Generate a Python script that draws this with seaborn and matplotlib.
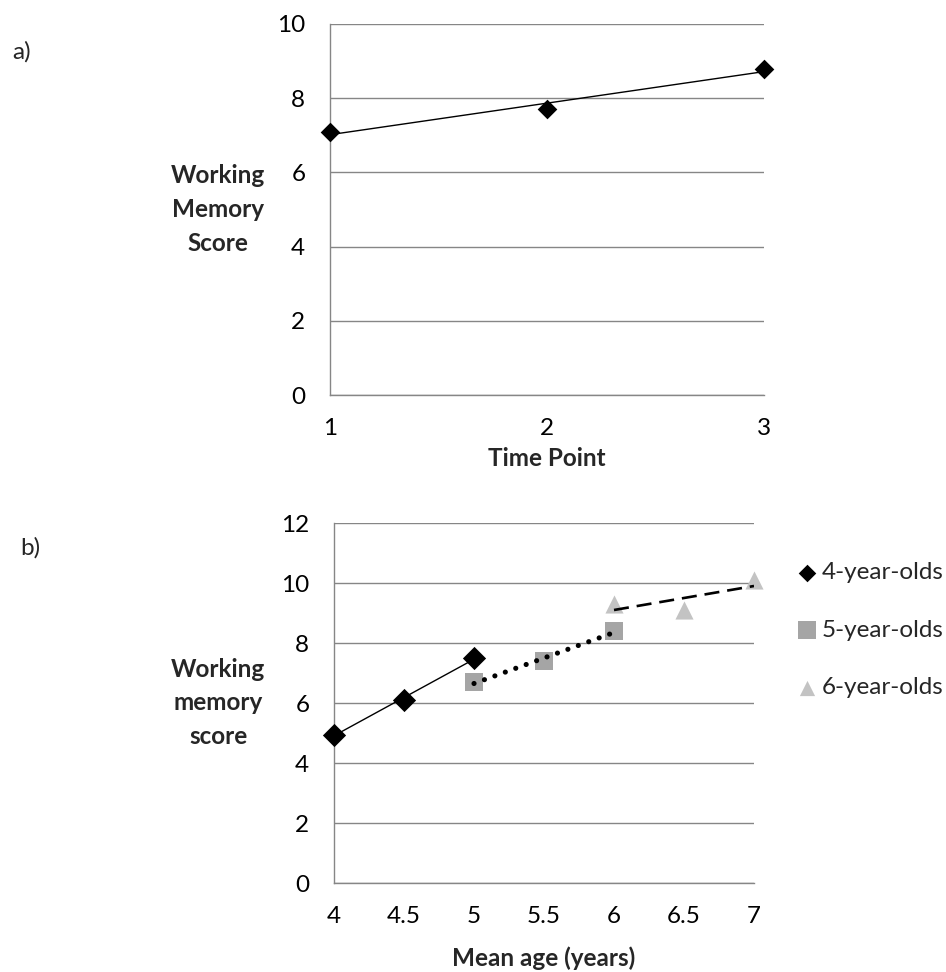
import matplotlib
matplotlib.use("Agg")
import matplotlib.pyplot as plt
import seaborn as sns

# Panel a: working memory score at three time points
time_points = [1, 2, 3]
wm_scores = [7.1, 7.7, 8.8]

# Panel b: working memory score by mean age, per age cohort
ages_4 = [4.0, 4.5, 5.0]
scores_4 = [4.95, 6.1, 7.5]
ages_5 = [5.0, 5.5, 6.0]
scores_5 = [6.7, 7.4, 8.4]
ages_6 = [6.0, 6.5, 7.0]
scores_6 = [9.3, 9.1, 10.1]
group_labels = ["4-year-olds", "5-year-olds", "6-year-olds"]

top_xticks = [1, 2, 3]
top_xticklabels = ["1", "2", "3"]
top_yticks = [0, 2, 4, 6, 8, 10]
bottom_xticks = [4, 4.5, 5, 5.5, 6, 6.5, 7]
bottom_xticklabels = ["4", "4.5", "5", "5.5", "6", "6.5", "7"]
bottom_yticks = [0, 2, 4, 6, 8, 10, 12]

sns.set_style("white")
plt.rcParams["font.family"] = ["Lato", "DejaVu Sans"]

GRID = "#868686"
FS = 17.5
W, H = 946, 972

fig = plt.figure(figsize=(W / 100, H / 100), dpi=100)
ax_a = fig.add_axes([330 / W, 1 - 395 / H, 434 / W, 371 / H])
ax_b = fig.add_axes([334 / W, 1 - 883 / H, 420 / W, 360 / H])


def style_axes(ax, xticks, xticklabels, yticks):
    ax.set_xlim(xticks[0], xticks[-1])
    ax.set_ylim(yticks[0], yticks[-1])
    ax.set_xticks(xticks, xticklabels)
    ax.set_yticks(yticks, [str(t) for t in yticks])
    for side in ("top", "right"):
        ax.spines[side].set_visible(False)
    for side in ("left", "bottom"):
        ax.spines[side].set_color(GRID)
        ax.spines[side].set_linewidth(1.0)
    ax.yaxis.grid(True, color=GRID, linewidth=1.0)
    ax.xaxis.grid(False)
    ax.tick_params(axis="both", direction="out", length=5.8, width=1.0,
                   color=GRID, labelsize=FS, labelcolor="black")
    ax.tick_params(axis="y", pad=12)
    ax.tick_params(axis="x", pad=11)
    ax.set_axisbelow(True)


# ---- panel a ----
sns.scatterplot(x=time_points, y=wm_scores, ax=ax_a, marker="D", s=100,
                color="black", linewidth=0, zorder=3, clip_on=False)
sns.regplot(x=time_points, y=wm_scores, ax=ax_a, scatter=False, ci=None,
            truncate=True, line_kws=dict(color="black", lw=1.0, zorder=4))
style_axes(ax_a, top_xticks, top_xticklabels, top_yticks)
ax_a.set_xlabel("Time Point", fontsize=FS, fontweight="bold")
ax_a.xaxis.set_label_coords(0.5, (395 - 459) / 371)
ax_a.xaxis.label.set_va("center")
ax_a.set_ylabel("Working\nMemory\nScore", fontsize=FS, fontweight="bold",
                rotation=0, ha="center", va="center", linespacing=1.57)
ax_a.yaxis.set_label_coords((218 - 330) / 434, 0.5)

# ---- panel b ----
sns.scatterplot(x=ages_4, y=scores_4, ax=ax_b, marker="D", s=140,
                color="black", linewidth=0, zorder=3, clip_on=False,
                label=group_labels[0])
sns.scatterplot(x=ages_5, y=scores_5, ax=ax_b, marker="s", s=185,
                color="#A5A5A5", linewidth=0, zorder=3, clip_on=False,
                label=group_labels[1])
sns.scatterplot(x=ages_6, y=scores_6, ax=ax_b, marker="^", s=170,
                color="#C3C3C3", linewidth=0, zorder=3, clip_on=False,
                label=group_labels[2])

sns.regplot(x=ages_4, y=scores_4, ax=ax_b, scatter=False, ci=None,
            truncate=True, line_kws=dict(color="black", lw=1.0, zorder=4))
sns.regplot(x=ages_5, y=scores_5, ax=ax_b, scatter=False, ci=None,
            truncate=True,
            line_kws=dict(color="black", lw=3.7, zorder=4,
                          linestyle=(0, (0.01, 2.15)),
                          dash_capstyle="round"))
sns.regplot(x=ages_6, y=scores_6, ax=ax_b, scatter=False, ci=None,
            truncate=True,
            line_kws=dict(color="black", lw=1.9, zorder=4,
                          linestyle=(0, (5.7, 3.0)),
                          dash_capstyle="butt"))

style_axes(ax_b, bottom_xticks, bottom_xticklabels, bottom_yticks)
ax_b.set_xlabel("Mean age (years)", fontsize=FS, fontweight="bold")
ax_b.xaxis.set_label_coords(0.5, (883 - 958) / 360)
ax_b.xaxis.label.set_va("center")
ax_b.set_ylabel("Working\nmemory\nscore", fontsize=FS, fontweight="bold",
                rotation=0, ha="center", va="center", linespacing=1.57)
ax_b.yaxis.set_label_coords((218 - 334) / 420, 0.5)

handles, labels = ax_b.get_legend_handles_labels()
if ax_b.get_legend() is not None:
    ax_b.get_legend().remove()
leg = fig.legend(handles, labels, loc="center left",
                 bbox_to_anchor=(795 / W, 1 - 630 / H), frameon=False,
                 fontsize=FS, handlelength=1.0, handletextpad=0.1,
                 labelspacing=1.5, borderpad=0, borderaxespad=0)
# legend keys are drawn a little smaller than the plotted points
for handle, size in zip(leg.legend_handles, [80, 150, 120]):
    handle.set_sizes([size])

fig.text(22 / W, 1 - 52 / H, "a)", fontsize=FS, ha="center", va="center")
fig.text(30 / W, 1 - 548 / H, "b)", fontsize=FS, ha="center", va="center")

fig.savefig("out.png", dpi=100)
